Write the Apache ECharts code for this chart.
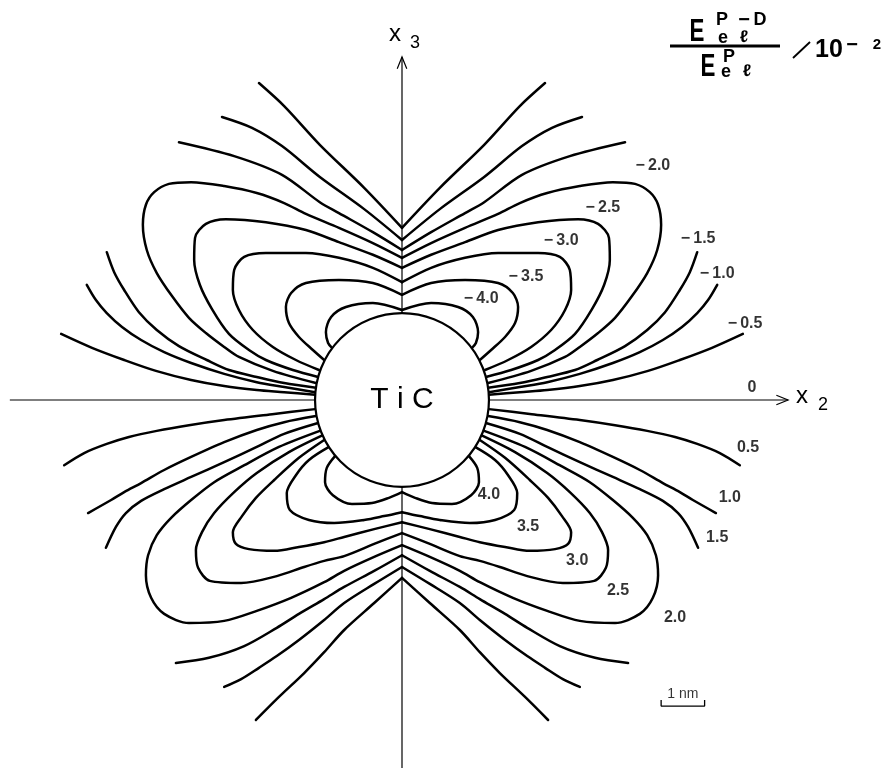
<!DOCTYPE html>
<html>
<head>
<meta charset="utf-8">
<title>Perturbation energy around a TiC particle</title>
<script src="https://cdn.jsdelivr.net/npm/echarts@6/dist/echarts.min.js"></script>
<style>
  html, body { margin: 0; padding: 0; background: #fff; }
  #chart { width: 886px; height: 768px; }
</style>
</head>
<body>
<div id="chart"></div>
<script>
// Contour levels of E_el^(P-D) / E_el^P, in units of 10^-2
const levels = [-4.0, -3.5, -3.0, -2.5, -2.0, -1.5, -1.0, -0.5, 0, 0.5, 1.0, 1.5, 2.0, 2.5, 3.0, 3.5, 4.0];

// Particle radius (nm); the particle sits at the origin of the (x2, x3) plane
const particleRadius = 2.0;

// Contour traces for x2 >= 0, in nm. The field is symmetric about the x3 axis,
// so the x2 < 0 half is the mirror image of each trace.
// Upper half (negative levels): closed loops from the particle to the x3 axis
const cNeg40 = [[0,2.07],[0.67,2.23],[1.29,2.14],[1.63,1.91],[1.75,1.56],[1.70,1.31],[1.61,1.20]];
const cNeg35 = [[0,2.42],[0.67,2.69],[1.45,2.76],[2.21,2.69],[2.55,2.46],[2.67,2.14],[2.60,1.77],[2.37,1.45],[2.05,1.15],[1.79,0.92]];
const cNeg30 = [[0,2.71],[0.67,3.04],[1.45,3.27],[2.21,3.38],[3.13,3.38],[3.63,3.29],[3.86,2.99],[3.89,2.53],[3.75,2.07],[3.43,1.61],[2.97,1.22],[2.44,0.92],[1.91,0.69]];
const cNeg25 = [[0,3.04],[0.67,3.34],[1.45,3.63],[2.21,3.91],[3.13,4.09],[4.05,4.16],[4.51,4.05],[4.76,3.73],[4.78,3.22],[4.65,2.65],[4.37,2.09],[3.98,1.52],[3.52,1.15],[3.13,0.92],[2.51,0.69],[1.93,0.53]];
const cNeg20 = [[0,3.27],[0.67,3.61],[1.45,3.96],[2.21,4.28],[2.71,4.53],[3.34,4.76],[4.09,4.92],[4.85,5.01],[5.36,4.97],[5.70,4.78],[5.89,4.49],[5.96,4.03],[5.87,3.45],[5.64,2.92],[5.29,2.39],[4.90,1.89],[4.51,1.54],[4.09,1.22],[3.75,0.99],[2.97,0.67],[1.98,0.39]];
// Upper half: open branches leaving the x3 axis
const cNeg15a = [[0,3.45],[0.67,3.86],[1.45,4.30],[1.89,4.55],[2.76,5.18],[3.86,5.61],[5.13,5.93]];
const cNeg10a = [[0,3.68],[0.87,4.39],[1.89,5.13],[2.76,5.84],[3.45,6.26],[4.14,6.51]];
const cNeg05a = [[0,3.96],[0.87,4.88],[1.89,5.87],[2.71,6.76],[3.29,7.29]];
// Upper half: open branches leaving the particle
const cNeg15b = [[1.98,0.28],[2.71,0.39],[3.34,0.53],[3.98,0.69],[4.49,0.92],[5.13,1.24],[5.64,1.61],[6.05,2.02],[6.39,2.53],[6.62,2.94],[6.79,3.40]];
const cNeg10b = [[2.00,0.18],[2.71,0.30],[3.34,0.41],[4.09,0.60],[4.85,0.85],[5.47,1.10],[6.00,1.38],[6.44,1.68],[6.79,2.00],[7.04,2.30],[7.25,2.65]];
const cNeg05b = [[2.00,0.12],[2.71,0.18],[3.34,0.23],[4.09,0.32],[4.85,0.46],[5.66,0.67],[6.39,0.92],[7.13,1.20],[7.84,1.52]];
// Lower half (positive levels): open branches leaving the particle
const cPos05b = [[2.00,-0.21],[2.94,-0.32],[4.09,-0.46],[4.90,-0.58],[5.64,-0.71],[6.28,-0.85],[6.79,-1.01],[7.31,-1.22],[7.77,-1.50]];
const cPos10b = [[1.98,-0.37],[2.71,-0.51],[3.34,-0.69],[4.09,-0.97],[4.85,-1.31],[5.47,-1.61],[6.00,-1.91],[6.39,-2.12],[6.69,-2.30],[7.22,-2.60]];
const cPos15b = [[1.93,-0.53],[2.71,-0.78],[3.34,-1.08],[4.09,-1.43],[4.85,-1.77],[5.47,-2.05],[6.00,-2.32],[6.35,-2.60],[6.58,-2.92],[6.81,-3.40]];
// Lower half: closed loops from the particle to the x3 axis
const cPos20 = [[1.89,-0.71],[2.83,-1.08],[3.70,-1.54],[4.32,-1.89],[4.85,-2.30],[5.31,-2.71],[5.64,-3.11],[5.84,-3.57],[5.89,-4.03],[5.77,-4.55],[5.47,-4.92],[4.90,-5.13],[4.09,-5.08],[3.34,-4.85],[2.55,-4.55],[1.79,-4.19],[1.33,-3.93],[0.64,-3.61],[0,-3.34]];
const cPos25 = [[1.82,-0.81],[2.60,-1.20],[3.34,-1.68],[3.86,-2.12],[4.32,-2.60],[4.60,-3.04],[4.74,-3.45],[4.69,-3.86],[4.42,-4.16],[3.70,-4.21],[2.88,-4.05],[2.25,-3.84],[1.79,-3.70],[1.33,-3.59],[0.64,-3.31],[0,-3.06]];
const cPos30 = [[1.79,-0.92],[2.37,-1.33],[2.94,-1.84],[3.36,-2.25],[3.68,-2.67],[3.89,-3.04],[3.82,-3.31],[3.52,-3.43],[2.94,-3.47],[2.37,-3.38],[1.79,-3.27],[1.33,-3.15],[0.64,-2.97],[0,-2.81]];
const cPos35 = [[1.68,-1.08],[2.14,-1.38],[2.44,-1.73],[2.65,-2.14],[2.58,-2.53],[2.14,-2.76],[1.56,-2.83],[0.87,-2.76],[0.41,-2.67],[0,-2.58]];
const cPos40 = [[1.54,-1.29],[1.73,-1.56],[1.77,-1.89],[1.59,-2.19],[1.15,-2.39],[0.69,-2.37],[0.30,-2.25],[0,-2.12]];
// Lower half: open branches leaving the x3 axis
const cPos15a = [[0,-3.57],[0.64,-3.93],[1.33,-4.30],[1.79,-4.58],[2.37,-4.92],[2.88,-5.24],[3.63,-5.66],[4.44,-5.93],[5.20,-6.05]];
const cPos10a = [[0,-3.84],[0.64,-4.23],[1.33,-4.67],[1.79,-5.06],[2.37,-5.52],[2.88,-5.89],[3.29,-6.16],[3.70,-6.42],[4.09,-6.60]];
const cPos05a = [[0,-4.09],[0.64,-4.67],[1.33,-5.29],[1.79,-5.80],[2.25,-6.28],[2.83,-6.83],[3.36,-7.36]];

// Which level each trace belongs to
const traces = [
  [-4.0, cNeg40], [-3.5, cNeg35], [-3.0, cNeg30], [-2.5, cNeg25], [-2.0, cNeg20],
  [-1.5, cNeg15a], [-1.0, cNeg10a], [-0.5, cNeg05a],
  [-1.5, cNeg15b], [-1.0, cNeg10b], [-0.5, cNeg05b],
  [0.5, cPos05b], [1.0, cPos10b], [1.5, cPos15b],
  [2.0, cPos20], [2.5, cPos25], [3.0, cPos30], [3.5, cPos35], [4.0, cPos40],
  [1.5, cPos15a], [1.0, cPos10a], [0.5, cPos05a]
];

// ---- layout (nm) ----
const VIEW_X = [-9.246, 11.132];
const VIEW_Y = [-8.464, 9.2];
const AXIS_X2 = [-9.02, 8.88];   // x2 axis extent
const AXIS_X3 = [-8.47, 7.89];   // x3 axis extent
const ARROW_LEN = 0.27, ARROW_HALF = 0.11;
const SCALE_BAR = { x: 5.96, y: -7.04, length: 1, tick: 0.14 };

// where each level's value is written
const labelAt = {
  '-4': [1.82, 2.35], '-3.5': [2.85, 2.85], '-3': [3.66, 3.68], '-2.5': [4.62, 4.44],
  '-2': [5.77, 5.41], '-1.5': [6.81, 3.73], '-1': [7.25, 2.92], '-0.5': [7.89, 1.79],
  '0': [8.05, 0.30], '0.5': [7.96, -1.08], '1': [7.54, -2.23], '1.5': [7.25, -3.15],
  '2': [6.28, -4.99], '2.5': [4.97, -4.37], '3': [4.03, -3.68], '3.5': [2.90, -2.88], '4': [2.00, -2.16]
};

const FONT = "'Liberation Sans', Arial, sans-serif";
const INK = '#000';

function fmtLevel(v) {
  if (v === 0) return '0';
  return (v < 0 ? '\u2212\u2009' : '') + Math.abs(v).toFixed(1);
}

const series = [];

// contour traces, right half and its mirror
traces.forEach(([level, pts]) => {
  const halves = [pts, pts.map(([x, y]) => [-x, y])];
  halves.forEach((d, k) => {
    series.push({
      type: 'line',
      name: 'level ' + level + (k ? ' (x2<0)' : ''),
      data: d,
      smooth: 0.3,
      symbol: 'none',
      showSymbol: false,
      silent: true,
      animation: false,
      z: 3,
      lineStyle: { color: INK, width: 2.5, cap: 'round', join: 'round' }
    });
  });
});

// coordinate axes with open arrowheads
function axisSeries(name, d) {
  return {
    type: 'line', name, data: d, symbol: 'none', showSymbol: false, silent: true,
    animation: false, z: 2,
    lineStyle: { color: INK, width: 1.2, cap: 'butt', join: 'miter' }
  };
}
series.push(axisSeries('x2 axis', [[AXIS_X2[0], 0], [AXIS_X2[1], 0]]));
series.push(axisSeries('x2 arrow', [[AXIS_X2[1] - ARROW_LEN, ARROW_HALF], [AXIS_X2[1], 0], [AXIS_X2[1] - ARROW_LEN, -ARROW_HALF]]));
series.push(axisSeries('x3 axis', [[0, AXIS_X3[0]], [0, AXIS_X3[1]]]));
series.push(axisSeries('x3 arrow', [[-ARROW_HALF, AXIS_X3[1] - ARROW_LEN], [0, AXIS_X3[1]], [ARROW_HALF, AXIS_X3[1] - ARROW_LEN]]));

// scale bar (1 nm)
series.push({
  type: 'line', name: 'scale bar', symbol: 'none', showSymbol: false, silent: true, animation: false, z: 2,
  data: [[SCALE_BAR.x, SCALE_BAR.y + SCALE_BAR.tick], [SCALE_BAR.x, SCALE_BAR.y],
         [SCALE_BAR.x + SCALE_BAR.length, SCALE_BAR.y], [SCALE_BAR.x + SCALE_BAR.length, SCALE_BAR.y + SCALE_BAR.tick]],
  lineStyle: { color: INK, width: 1.3 }
});
series.push({
  type: 'scatter', name: 'scale label', symbolSize: 0, silent: true, animation: false, z: 2,
  data: [[SCALE_BAR.x + SCALE_BAR.length / 2, SCALE_BAR.y]],
  label: { show: true, position: 'top', distance: 5, formatter: SCALE_BAR.length + ' nm',
           fontFamily: FONT, fontSize: 14, color: INK }
});

// the TiC particle
series.push({
  type: 'custom', name: 'TiC', silent: true, animation: false, z: 5,
  data: [[0, 0, particleRadius]],
  renderItem(params, api) {
    const c = api.coord([api.value(0), api.value(1)]);
    const r = api.size([api.value(2), 0])[0];
    return {
      type: 'group',
      children: [
        { type: 'circle', shape: { cx: c[0], cy: c[1], r }, style: { fill: '#fff', stroke: INK, lineWidth: 2.2 } },
        { type: 'text', style: { text: 'T i C', x: c[0], y: c[1], textAlign: 'center', textVerticalAlign: 'middle',
                                 font: '30px ' + FONT, fill: INK } }
      ]
    };
  }
});

// level values written next to the contours
series.push({
  type: 'scatter', name: 'level labels', symbolSize: 0, silent: true, animation: false, z: 6,
  data: levels.map(v => ({ value: labelAt[String(v)], level: v })),
  label: {
    show: true, position: 'inside', offset: [0, 1], fontFamily: FONT, fontSize: 16, fontWeight: 'bold', color: INK,
    formatter: p => fmtLevel(p.data.level)
  }
});

// axis names and the quantity being mapped
function txt(text, x, y, size, extra, weight) {
  return Object.assign({
    type: 'text', x, y, silent: true,
    style: { text, font: (weight || 'normal') + ' ' + size + 'px ' + FONT, fill: INK,
             textAlign: 'center', textVerticalAlign: 'middle' }
  }, extra || {});
}
const graphic = [
  txt('x', 395, 34, 24), txt('3', 415, 43, 18),
  txt('x', 802, 396, 24), txt('2', 823, 405, 18),
  // E_el^{P-D} / E_el^{P}  / 10^-2
  txt('E', 697, 32, 31, { scaleX: 0.72 }, 'bold'),
  txt('P', 722, 20, 18, null, 'bold'), txt('\u2212', 744, 20, 20, null, 'bold'), txt('D', 760, 20, 18, null, 'bold'),
  txt('e', 723, 38, 18, null, 'bold'), txt('\u2113', 744, 37, 17, null, 'bold'),
  { type: 'line', silent: true, shape: { x1: 670, y1: 46, x2: 780, y2: 46 }, style: { stroke: INK, lineWidth: 2.8 } },
  txt('E', 708, 67, 31, { scaleX: 0.72 }, 'bold'),
  txt('P', 729, 57, 18, null, 'bold'),
  txt('e', 726, 72, 18, null, 'bold'), txt('\u2113', 747, 71, 17, null, 'bold'),
  { type: 'line', silent: true, shape: { x1: 793, y1: 58, x2: 810, y2: 42 }, style: { stroke: INK, lineWidth: 1.8 } },
  txt('10', 829, 50, 25, null, 'bold'),
  txt('\u2212', 852, 45, 20, null, 'bold'), txt('2', 877, 45, 15, null, 'bold')
];

const chart = echarts.init(document.getElementById('chart'), null, { renderer: 'canvas' });
chart.setOption({
  animation: false,
  backgroundColor: '#fff',
  grid: { left: 0, right: 0, top: 0, bottom: 0 },
  xAxis: { type: 'value', min: VIEW_X[0], max: VIEW_X[1], show: false },
  yAxis: { type: 'value', min: VIEW_Y[0], max: VIEW_Y[1], show: false },
  tooltip: { show: false },
  graphic,
  series
});
</script>
</body>
</html>
